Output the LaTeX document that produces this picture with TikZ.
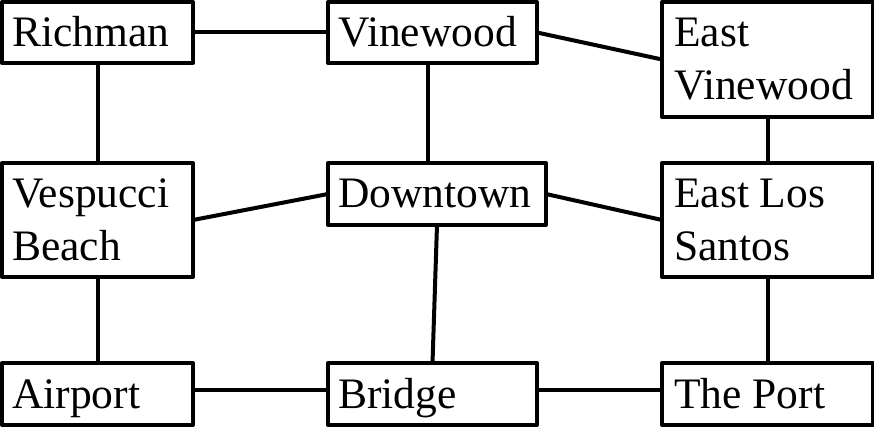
\documentclass[tikz,border=0pt]{standalone}
\usepackage{fontspec}
\setmainfont{Liberation Serif}
\begin{document}
\begin{tikzpicture}[x=1pt,y=-1pt,
  box/.style={draw=black, line width=4pt, line join=round, inner sep=0pt, outer sep=0pt, fill=white},
  lbl/.style={anchor=base west, inner sep=0pt, align=left, font=\fontsize{43.5}{53}\selectfont},
  link/.style={draw=black, line width=4pt}]
\useasboundingbox (0,0) rectangle (874,427);
% boxes
\node[box, minimum width=191pt, minimum height=61pt] (ric) at (97.5,32.5) {};
\node[box, minimum width=209pt, minimum height=61pt] (vin) at (432.5,32.5) {};
\node[box, minimum width=211pt, minimum height=115pt] (ev) at (767.5,59.5) {};
\node[box, minimum width=191pt, minimum height=114pt] (vb) at (97.5,220) {};
\node[box, minimum width=218pt, minimum height=62pt] (dt) at (437,194) {};
\node[box, minimum width=211pt, minimum height=114pt] (els) at (767.5,220) {};
\node[box, minimum width=191pt, minimum height=62pt] (air) at (97.5,394) {};
\node[box, minimum width=209pt, minimum height=62pt] (bri) at (432.5,394) {};
\node[box, minimum width=211pt, minimum height=62pt] (port) at (767.5,394) {};
% texts (multi-line texts are placed by their last baseline)
\node[lbl] (tric) at (12,47) {Richman};
\node[lbl] (tvin) at (338,47) {Vinewood};
\node[lbl] (tev) at (674,100) {East\\Vinewood};
\node[lbl] (tvb) at (12,261) {Vespucci\\Beach};
\node[lbl] (tdt) at (338,208) {Downtown};
\node[lbl] (tels) at (674,261) {East Los\\Santos};
\node[lbl] (tair) at (12,408) {Airport};
\node[lbl] (tbri) at (338,408) {Bridge};
\node[lbl] (tport) at (674,408) {The Port};
% connectors
\draw[link] (ric.east) -- (vin.west);
\draw[link] (vin.east) -- (ev.west);
\draw[link] (ric.south) -- (vb.north);
\draw[link] ([xshift=-4.5pt]vin.south) -- ([xshift=-9pt]dt.north);
\draw[link] (ev.south) -- (els.north);
\draw[link] (vb.east) -- (dt.west);
\draw[link] (dt.east) -- (els.west);
\draw[link] (vb.south) -- (air.north);
\draw[link] (dt.south) -- (bri.north);
\draw[link] (els.south) -- (port.north);
\draw[link] ([yshift=4pt]air.east) -- ([yshift=4pt]bri.west);
\draw[link] ([yshift=4pt]bri.east) -- ([yshift=4pt]port.west);
\end{tikzpicture}
\end{document}
